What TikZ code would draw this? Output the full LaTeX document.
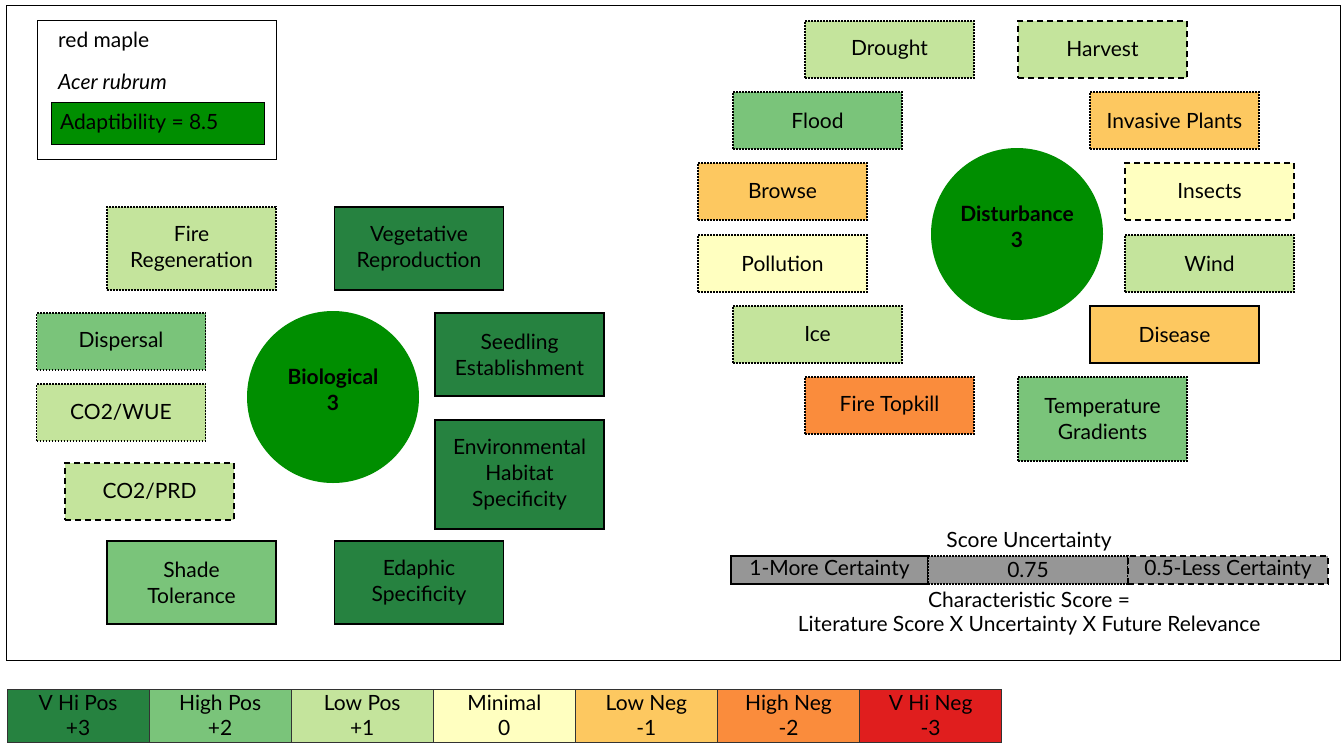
\documentclass[tikz,border=0pt]{standalone}
\usepackage{fontspec}
\setmainfont{Lato}[BoldFont={* Bold}]
\definecolor{vhipos}{RGB}{38,130,64}
\definecolor{hipos}{RGB}{122,196,122}
\definecolor{lopos}{RGB}{196,228,156}
\definecolor{minimal}{RGB}{255,255,192}
\definecolor{loneg}{RGB}{253,200,96}
\definecolor{hineg}{RGB}{250,140,60}
\definecolor{vhineg}{RGB}{224,30,30}
\definecolor{adapt}{RGB}{0,142,0}
\definecolor{uncert}{RGB}{150,150,150}
\tikzset{
  trait/.style={draw=black, minimum width=169pt, minimum height=57pt, inner sep=0pt,
    align=center, font=\fontsize{21}{26}\selectfont},
  solidbox/.style={trait, line width=1.6pt},
  dotbox/.style={trait, line width=1.6pt, dash pattern=on 1.6pt off 1.4pt},
  dashbox/.style={trait, line width=1.6pt, dash pattern=on 6pt off 4pt},
  group/.style={circle, fill=adapt, minimum size=172pt, inner sep=0pt},
  grouptext/.style={align=center, yshift=7pt, font=\fontsize{21}{26}\selectfont\bfseries, text=black},
  scorecell/.style={draw=black!80, line width=0.8pt, minimum width=142.1pt, minimum height=53pt,
    inner sep=0pt, align=center, font=\fontsize{21}{25}\selectfont},
  uncbox/.style={fill=uncert, minimum width=198pt, minimum height=28pt, inner sep=0pt,
    font=\fontsize{21}{22}\selectfont, draw=black, line width=1.6pt},
  plain/.style={font=\fontsize{21}{22}\selectfont, inner sep=0pt}
}
\begin{document}
\begin{tikzpicture}[x=1pt,y=-1pt]
  \useasboundingbox (0,0) rectangle (1341,742);
  \draw[line width=1pt] (6,5) rectangle (1340,660);
  \draw[fill=white, line width=1pt] (37,20) rectangle (276,159);
  \node[plain, anchor=west] (common) at (58,42) {red maple};
  \node[plain, anchor=west] (latin) at (58,82) {\itshape Acer rubrum};
  \node[draw=black, fill=adapt, minimum width=213pt, minimum height=42pt, inner sep=0pt]
    (adaptbox) at (157.5,123) {};
  \node[plain, anchor=west, text=black] (adapt) at (60,124) {Adaptibility = 8.5};
  \node[group, label={[grouptext]center:Biological\\3}] (bio) at (333,397) {};
  \node[group, label={[grouptext]center:Disturbance\\3}] (dist) at (1017,234) {};
  \begin{scope}
    \node[dotbox, fill=lopos, minimum height=83pt] (firereg) at (191.5,248.5) {Fire\\Regeneration};
    \node[solidbox, fill=vhipos, minimum height=83pt] (vegrep) at (419,248.5) {Vegetative\\Reproduction};
    \node[dotbox, fill=hipos] (dispersal) at (121,341.5) {Dispersal};
    \node[solidbox, fill=vhipos, minimum height=83pt] (seedling) at (519.5,354.5) {Seedling\\Establishment};
    \node[dotbox, fill=lopos] (wue) at (121,412.5) {CO2/WUE};
    \node[solidbox, fill=vhipos, minimum height=109pt] (envhab) at (519.5,474.5) {Environmental\\Habitat\\Specificity};
    \node[dashbox, fill=lopos] (prd) at (149.5,491.5) {CO2/PRD};
    \node[solidbox, fill=hipos, minimum height=83pt] (shade) at (191.5,582.5) {Shade\\Tolerance};
    \node[solidbox, fill=vhipos, minimum height=83pt] (edaphic) at (419,582.5) {Edaphic\\Specificity};
  \end{scope}
  \begin{scope}
    \node[dotbox, fill=lopos] (drought) at (889.5,49.5) {Drought};
    \node[dashbox, fill=lopos] (harvest) at (1102.5,49.5) {Harvest};
    \node[dotbox, fill=hipos] (flood) at (817.5,120.5) {Flood};
    \node[dotbox, fill=loneg] (invasive) at (1174.5,120.5) {Invasive Plants};
    \node[dotbox, fill=loneg] (browse) at (782.5,191.5) {Browse};
    \node[dashbox, fill=minimal] (insects) at (1209.5,191.5) {Insects};
    \node[dotbox, fill=minimal] (pollution) at (782.5,263.5) {Pollution};
    \node[dotbox, fill=lopos] (wind) at (1209.5,263.5) {Wind};
    \node[dotbox, fill=lopos] (ice) at (817.5,334.5) {Ice};
    \node[solidbox, fill=loneg] (disease) at (1174.5,334.5) {Disease};
    \node[dotbox, fill=hineg] (topkill) at (889.5,405.5) {Fire Topkill};
    \node[dotbox, fill=hipos, minimum height=84pt] (tempgrad) at (1102.5,419) {Temperature\\Gradients};
  \end{scope}
  \node[plain] (unctitle) at (1029,542) {Score Uncertainty};
  \node[uncbox, minimum width=197pt] (more) at (829.5,570) {1-More Certainty};
  \node[uncbox, minimum width=200pt, dash pattern=on 1.6pt off 1.4pt] (mid) at (1028,570) {0.75};
  \node[uncbox, minimum width=200pt, dash pattern=on 6pt off 4pt] (less) at (1228,570) {0.5-Less Certainty};
  \node[plain] (formula) at (1029,600) {Characteristic Score =};
  \node[plain] (terms) at (1029,626) {Literature Score X Uncertainty X Future Relevance};
  \node[scorecell, fill=vhipos] (s3) at (78,715.5) {V Hi Pos\\+3};
  \node[scorecell, fill=hipos] (s2) at (220.1,715.5) {High Pos\\+2};
  \node[scorecell, fill=lopos] (s1) at (362.2,715.5) {Low Pos\\+1};
  \node[scorecell, fill=minimal] (s0) at (504.3,715.5) {Minimal\\0};
  \node[scorecell, fill=loneg] (n1) at (646.4,715.5) {Low Neg\\-1};
  \node[scorecell, fill=hineg] (n2) at (788.5,715.5) {High Neg\\-2};
  \node[scorecell, fill=vhineg] (n3) at (930.6,715.5) {V Hi Neg\\-3};
\end{tikzpicture}
\end{document}
